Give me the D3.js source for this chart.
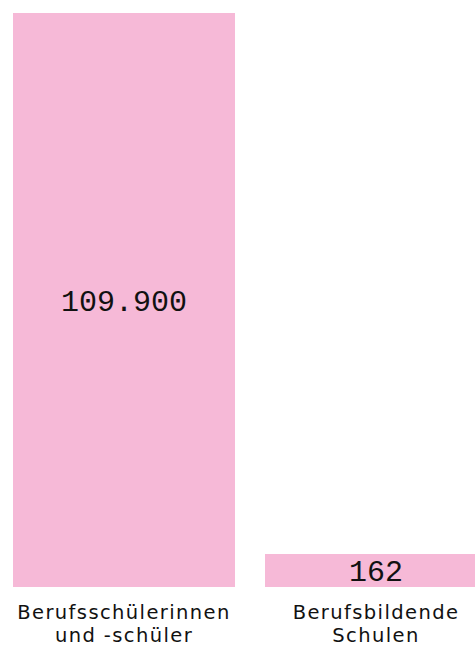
<!DOCTYPE html>
<html>
<head>
<meta charset="utf-8">
<script src="https://cdn.jsdelivr.net/npm/d3@7"></script>
<style>
  body { margin: 0; background: #fff; overflow: hidden; }
  svg { display: block; }
</style>
</head>
<body>
<div id="chart"></div>
<script>
// data
var categories = ["Berufsschülerinnen\nund -schüler", "Berufsbildende\nSchulen"];
var values = [109900, 162];
var valueLabels = ["109.900", "162"];

var width = 475, height = 649;
var plotTop = 13, plotBottom = 587;
var minBar = 33;

var svg = d3.select("#chart")
    .append("svg")
    .attr("width", width)
    .attr("height", height);

// x positions, second bar runs off the right edge
var x = d3.scaleBand()
    .domain(categories)
    .range([13, 13 + 2 * 222 + 30])
    .paddingInner(30 / 252);

var y = d3.scaleLinear()
    .domain([0, d3.max(values)])
    .range([plotBottom, plotTop]);

function barTop(v) { return Math.min(y(v), plotBottom - minBar); }

var data = categories.map(function(c, i) {
  return { cat: c, value: values[i], label: valueLabels[i] };
});

svg.selectAll("rect.bar")
    .data(data)
    .enter().append("rect")
    .attr("class", "bar")
    .attr("x", function(d) { return x(d.cat); })
    .attr("width", x.bandwidth())
    .attr("y", function(d) { return barTop(d.value); })
    .attr("height", function(d) { return plotBottom - barTop(d.value); })
    .style("fill", "#f6b9d7");

// value labels
svg.selectAll("text.value")
    .data(data)
    .enter().append("text")
    .attr("class", "value")
    .attr("x", function(d) { return x(d.cat) + x.bandwidth() / 2; })
    .attr("y", function(d) { return (barTop(d.value) + plotBottom) / 2; })
    .attr("dy", "0.35em")
    .attr("text-anchor", "middle")
    .style("font-family", "'Liberation Mono', monospace")
    .style("font-size", "30px")
    .style("fill", "#111")
    .text(function(d) { return d.label; });

// category labels
var cats = svg.selectAll("text.cat")
    .data(data)
    .enter().append("text")
    .attr("class", "cat")
    .attr("text-anchor", "middle")
    .style("font-family", "'DejaVu Sans', sans-serif")
    .style("font-size", "19.5px")
    .style("letter-spacing", "1.4px")
    .style("fill", "#111");

cats.selectAll("tspan")
    .data(function(d) {
      return d.cat.split("\n").map(function(t) { return { t: t, cx: x(d.cat) + x.bandwidth() / 2 }; });
    })
    .enter().append("tspan")
    .attr("x", function(d) { return d.cx; })
    .attr("y", function(d, i) { return 619 + i * 23; })
    .text(function(d) { return d.t; });
</script>
</body>
</html>
